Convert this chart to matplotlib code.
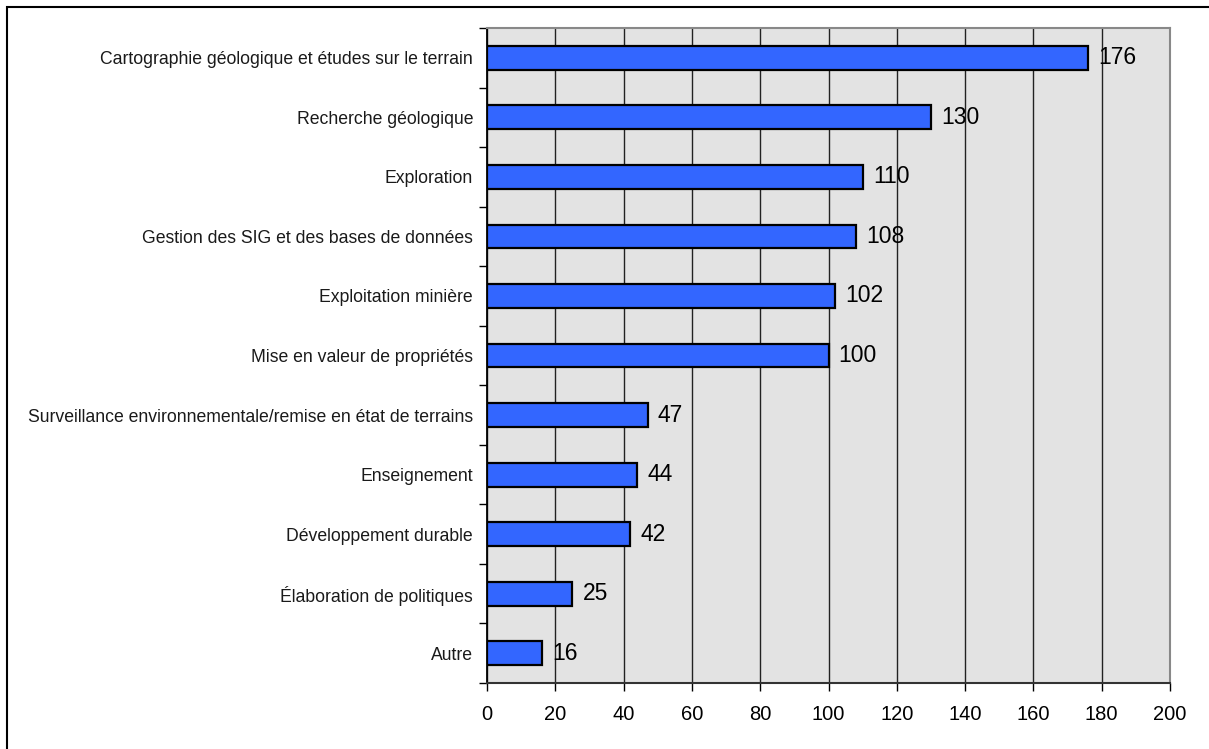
import matplotlib
matplotlib.use("Agg")
import matplotlib.pyplot as plt
from matplotlib.patches import Rectangle

categories = [
    "Cartographie géologique et études sur le terrain",
    "Recherche géologique",
    "Exploration",
    "Gestion des SIG et des bases de données",
    "Exploitation minière",
    "Mise en valeur de propriétés",
    "Surveillance environnementale/remise en état de terrains",
    "Enseignement",
    "Développement durable",
    "Élaboration de politiques",
    "Autre",
]
values = [176, 130, 110, 108, 102, 100, 47, 44, 42, 25, 16]
xticks = [0, 20, 40, 60, 80, 100, 120, 140, 160, 180, 200]

plt.rcParams['font.family'] = ['Liberation Sans', 'DejaVu Sans']

W, H = 1209, 749
fig = plt.figure(figsize=(W / 100, H / 100), dpi=100)
ax = fig.add_axes([487 / W, 1 - 683 / H, (1170 - 487) / W, (683 - 28) / H])
ax.set_facecolor("#e3e3e3")

n = len(categories)
ypos = list(range(n))
ax.barh(ypos, values, height=0.4, color="#3366ff", edgecolor="black",
        linewidth=1.6, zorder=3)
for y, v in zip(ypos, values):
    ax.text(v + 3, y, str(v), va="center", ha="left", fontsize=16.5, zorder=4)

ax.set_xlim(0, 200)
ax.set_ylim(n - 0.5, -0.5)
ax.set_xticks(xticks)
ax.set_xticklabels([str(t) for t in xticks], fontsize=14.5)
ax.xaxis.grid(True, color="#222222", linewidth=1.0, zorder=1)
ax.set_axisbelow(True)

ax.set_yticks(ypos)
ax.set_yticklabels(categories, fontsize=12.7, color="#1a1a1a")
ax.tick_params(axis="y", length=0, pad=10)
ax.set_yticks([i - 0.5 for i in range(n + 1)], minor=True)
ax.tick_params(axis="y", which="minor", length=6, width=1, color="black")
ax.tick_params(axis="x", length=6, width=1, color="black", pad=10)

ax.spines["left"].set_color("black")
ax.spines["left"].set_linewidth(1.3)
ax.spines["bottom"].set_color("#333333")
ax.spines["bottom"].set_linewidth(1.5)
ax.spines["top"].set_color("#888888")
ax.spines["top"].set_linewidth(1.5)
ax.spines["right"].set_color("#888888")
ax.spines["right"].set_linewidth(1.5)

fig.patches.append(Rectangle((7 / W, -0.05), 1.1, 1 - 7 / H + 0.05,
                             transform=fig.transFigure, fill=False,
                             edgecolor="black", linewidth=1.5))

fig.savefig("out.png", dpi=100)
